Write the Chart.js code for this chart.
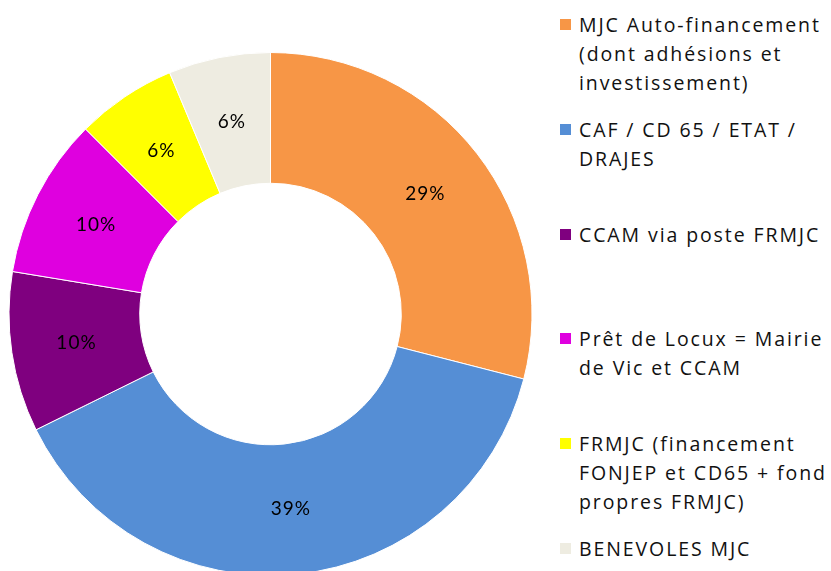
<!DOCTYPE html>
<html>
<head>
<meta charset="utf-8">
<script src="https://cdn.jsdelivr.net/npm/chart.js@4"></script>
<style>
  html, body { margin: 0; padding: 0; background: #fff; overflow: hidden; width: 831px; height: 571px; }
  #wrap { position: absolute; left: 0; top: 52px; width: 541px; height: 524px; }
  #legend { position: absolute; left: 560px; top: 10px; width: 271px; font-family: "Open Sans", sans-serif; font-size: 19.5px; letter-spacing: 1.9px; color: #111; white-space: nowrap; }
  .item { position: relative; height: 104.8px; padding-left: 19px; line-height: 29px; }
  .box { position: absolute; left: 0; top: 9px; width: 11px; height: 11px; }
</style>
</head>
<body>
<div id="wrap"><canvas id="pie"></canvas></div>
<div id="legend"></div>
<script>
// DATA
const labels = [
  ["MJC Auto-financement", "(dont adhésions et", "investissement)"],
  ["CAF / CD 65 / ETAT /", "DRAJES"],
  ["CCAM via poste FRMJC"],
  ["Prêt de Locux = Mairie", "de Vic et CCAM"],
  ["FRMJC (financement", "FONJEP et CD65 + fond", "propres FRMJC)"],
  ["BENEVOLES MJC"]
];
const values = [29, 38.7, 9.9, 9.9, 6.2, 6.3];
const colors = ["#F79646", "#558ED5", "#7F007F", "#DF00DF", "#FFFF00", "#EEECE1"];

// PERCENT LABELS ON SLICES
const pctLabels = {
  id: "pctLabels",
  afterDatasetsDraw(chart) {
    const ctx = chart.ctx;
    const total = values.reduce((a, b) => a + b, 0);
    ctx.save();
    ctx.font = "19px Lato, sans-serif";
    ctx.fillStyle = "#000";
    ctx.textAlign = "center";
    ctx.textBaseline = "middle";
    if ("letterSpacing" in ctx) ctx.letterSpacing = "1px";
    chart.getDatasetMeta(0).data.forEach((arc, i) => {
      const p = arc.getCenterPoint();
      ctx.fillText(Math.round(values[i] / total * 100) + "%", p.x, p.y);
    });
    ctx.restore();
  }
};

const ctx = document.getElementById("pie").getContext("2d");
const my_chart = new Chart(ctx, {
  type: "doughnut",
  data: {
    labels: labels,
    datasets: [{
      data: values,
      backgroundColor: colors,
      borderColor: "#fff",
      borderWidth: 1
    }]
  },
  options: {
    responsive: true,
    maintainAspectRatio: false,
    animation: false,
    cutout: "50%",
    layout: { padding: 0 },
    plugins: {
      legend: { display: false },
      tooltip: { enabled: false }
    }
  },
  plugins: [pctLabels]
});

// HTML LEGEND
const legend = document.getElementById("legend");
labels.forEach((lines, i) => {
  const item = document.createElement("div");
  item.className = "item";
  const box = document.createElement("span");
  box.className = "box";
  box.style.background = colors[i];
  item.appendChild(box);
  lines.forEach(line => {
    const d = document.createElement("div");
    d.textContent = line;
    item.appendChild(d);
  });
  legend.appendChild(item);
});
</script>
</body>
</html>
